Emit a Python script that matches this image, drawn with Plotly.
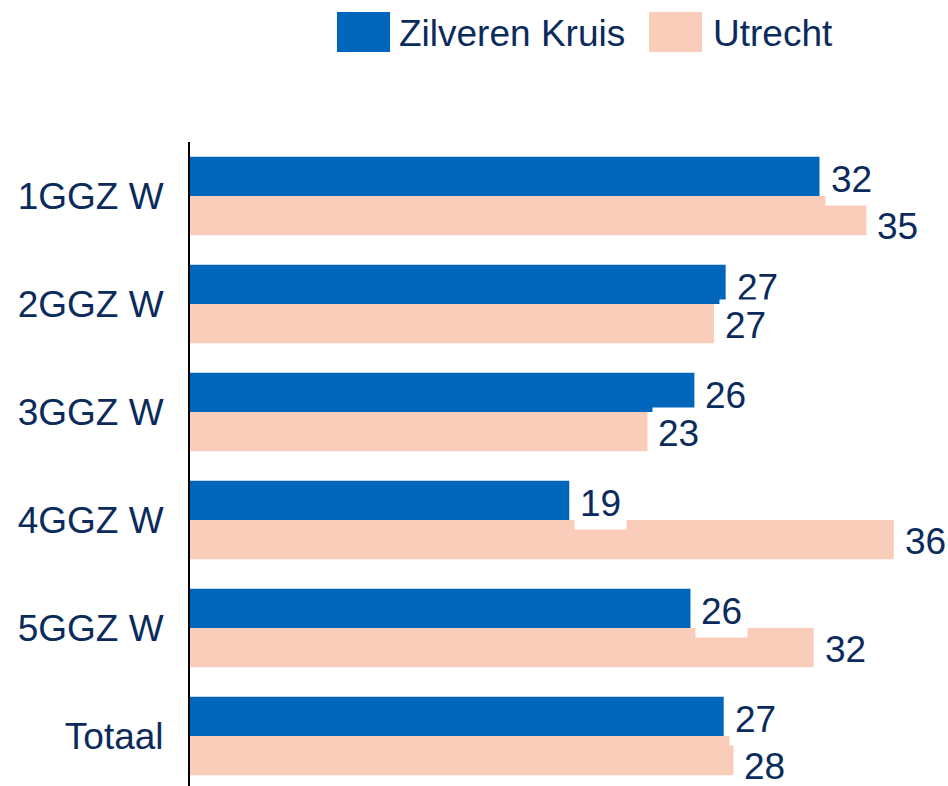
import plotly.graph_objects as go

categories = ["1GGZ W", "2GGZ W", "3GGZ W", "4GGZ W", "5GGZ W", "Totaal"]
zilveren_kruis = [32.2, 27.4, 25.8, 19.4, 25.6, 27.3]
utrecht = [34.6, 26.8, 23.4, 36.0, 31.9, 27.8]
series_names = ["Zilveren Kruis", "Utrecht"]

BLUE = "#0066BC"
PEACH = "#FACDBA"
NAVY = "#0B2B5C"
FONT = "Liberation Sans, Arial, sans-serif"
FS = 37

W, H = 948, 786
L, T = 190, 142
PW, PH = W - L, H - T
SCALE = 19.55  # px per unit
BAND = 108.0   # px per category

fig = go.Figure()
fig.add_trace(go.Bar(y=categories, x=zilveren_kruis, orientation="h", name=series_names[0],
                     marker=dict(color=BLUE, line=dict(width=0)), showlegend=False))
fig.add_trace(go.Bar(y=categories, x=utrecht, orientation="h", name=series_names[1],
                     marker=dict(color=PEACH, line=dict(width=0)), showlegend=False))

annotations = []
extra_down = {"1GGZ W": 9, "Totaal": 9}
for cat, v in zip(categories, zilveren_kruis):
    annotations.append(dict(x=v, y=cat, xref="x", yref="y", text=f"{v:.0f}", showarrow=False,
                            xanchor="left", yanchor="middle", xshift=5, yshift=17,
                            bgcolor="white", borderpad=5, font=dict(family=FONT, size=FS, color=NAVY)))
for cat, v in zip(categories, utrecht):
    annotations.append(dict(x=v, y=cat, xref="x", yref="y", text=f"{v:.0f}", showarrow=False,
                            xanchor="left", yanchor="middle", xshift=5, yshift=-21 - extra_down.get(cat, 0),
                            bgcolor="white", borderpad=5, font=dict(family=FONT, size=FS, color=NAVY)))

def px_x(px):
    return (px - L) / PW

def px_y(py):
    return (H - py) / PH

shapes = [
    dict(type="rect", xref="paper", yref="paper", x0=px_x(337), x1=px_x(390), y0=px_y(52), y1=px_y(12),
         fillcolor=BLUE, line=dict(width=0)),
    dict(type="rect", xref="paper", yref="paper", x0=px_x(649), x1=px_x(702), y0=px_y(52), y1=px_y(12),
         fillcolor=PEACH, line=dict(width=0)),
]
annotations.append(dict(x=px_x(397), y=px_y(33), xref="paper", yref="paper", text=series_names[0],
                        showarrow=False, xanchor="left", yanchor="middle",
                        font=dict(family=FONT, size=FS, color=NAVY)))
annotations.append(dict(x=px_x(711), y=px_y(33), xref="paper", yref="paper", text=series_names[1],
                        showarrow=False, xanchor="left", yanchor="middle",
                        font=dict(family=FONT, size=FS, color=NAVY)))

y_top = -0.5
y_bottom = y_top + PH / BAND

fig.update_layout(
    width=W, height=H,
    margin=dict(l=L, r=0, t=T, b=0, pad=0),
    paper_bgcolor="white", plot_bgcolor="white",
    barmode="group", bargap=0.275, bargroupgap=0,
    annotations=annotations, shapes=shapes,
    xaxis=dict(range=[0, PW / SCALE], visible=False, showgrid=False, zeroline=False),
    yaxis=dict(range=[y_bottom, y_top], showline=True, linecolor="black", linewidth=2,
               showgrid=False, zeroline=False, ticks="", ticklabelstandoff=17,
               tickfont=dict(family=FONT, size=FS, color=NAVY)),
    font=dict(family=FONT, color=NAVY),
)

fig.write_html("out.html", config={"displayModeBar": False, "staticPlot": True},
               post_script="document.body.style.margin='0px';document.body.style.overflow='hidden';")
